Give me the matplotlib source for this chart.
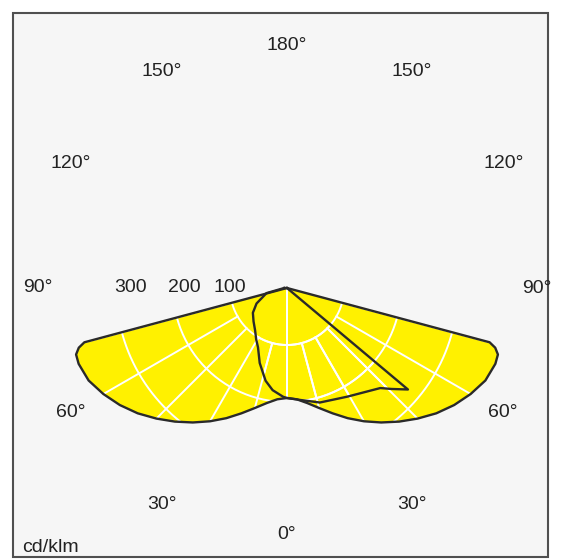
import numpy as np
import matplotlib
matplotlib.use("Agg")
import matplotlib.pyplot as plt
from matplotlib.patches import Rectangle

plt.rcParams['font.family'] = ['Liberation Sans', 'DejaVu Sans']

# C0-C180 plane (symmetric batwing), cd/klm vs angle from nadir
c0_angles = [0, 5, 10, 15, 20, 25, 30, 35, 40, 45, 50, 55, 60, 65, 70, 72.5, 74, 75, 77, 90]
c0_values = [193, 196, 205, 218, 234, 252, 270, 288, 306, 324, 342, 358, 372, 384, 389, 388, 380, 368, 0, 0]

# C90-C270 plane (asymmetric), negative angles = left half
c90_angles = [-90, -76, -63, -54, -45, -37, -31, -26, -20, -13, -8, -2, 0, 7, 16, 29, 43, 46, 50, 51]
c90_values = [5, 37, 60, 74, 83, 93, 105, 116, 140, 167, 181, 191, 193, 198, 209, 218, 240, 255, 277, 0]

ring_values = [100, 200, 300, 400]
ring_labels = ["100", "200", "300"]
angle_labels = [0, 30, 60, 90, 120, 150, 180]
unit = "cd/klm"

yellow = '#fff100'
W, H = 561, 560
cx, cy = 287, 288          # centre of the diagram in pixels
px_per_unit = 0.57         # pixels per cd/klm
R = 270                    # axes radius in pixels
rmax = R / px_per_unit

fig = plt.figure(figsize=(W / 100, H / 100), dpi=100)
fig.add_artist(Rectangle((13 / W, 3 / H), 535 / W, 544 / H, transform=fig.transFigure,
                         facecolor='#f6f6f6', edgecolor='#505050', lw=1.5, zorder=0))

ax = fig.add_axes([(cx - R) / W, (H - cy - R) / H, 2 * R / W, 2 * R / H], projection='polar')
ax.set_theta_zero_location('S')
ax.set_theta_direction(1)
ax.set_ylim(0, rmax)
ax.set_axis_off()

# curves
a0 = np.array(c0_angles)
v0 = np.array(c0_values)
th0 = np.radians(np.concatenate([-a0[::-1], a0[1:]]))
r0 = np.concatenate([v0[::-1], v0[1:]])
th1 = np.radians(c90_angles)
r1 = np.array(c90_values)

fills = []
for th, r in [(th0, r0), (th1, r1)]:
    p, = ax.fill(th, r, color=yellow, lw=0, zorder=1)
    fills.append(p)

# white grid, only visible inside the filled curves
t = np.linspace(0, 2 * np.pi, 361)
for p in fills:
    for rv in ring_values:
        ln, = ax.plot(t, np.full_like(t, rv), color='white', lw=1.4, zorder=2)
        ln.set_clip_path(p)
    for a in range(-180, 180, 15):
        r_start = 0 if a % 90 == 0 else 100
        ln, = ax.plot([np.radians(a)] * 2, [r_start, rmax], color='white', lw=1.4, zorder=2)
        ln.set_clip_path(p)

for th, r in [(th0, r0), (th1, r1)]:
    ax.plot(np.append(th, th[0]), np.append(r, r[0]), color='#2a2a2a', lw=1.7, zorder=3)

# angle labels
for a in angle_labels:
    rr = 425 if a == 180 else (433 if a == 0 else 438)
    for s in ([1] if a in (0, 180) else [-1, 1]):
        ax.text(np.radians(s * a), rr, f"{a}°", ha='center', va='center',
                fontsize=14, color='#222222', zorder=4)

# ring value labels on the left horizontal
for lab, rr in zip(ring_labels, [100, 180, 275]):
    ax.text(np.radians(-90), rr, lab, ha='center', va='center', fontsize=14, color='#222222',
            zorder=4, bbox=dict(boxstyle='square,pad=0.05', fc='#f6f6f6', ec='none'))

fig.text(22 / W, 1 - 548 / H, unit, ha='left', va='center', fontsize=14, color='#222222')

fig.savefig('out.png', dpi=100)
